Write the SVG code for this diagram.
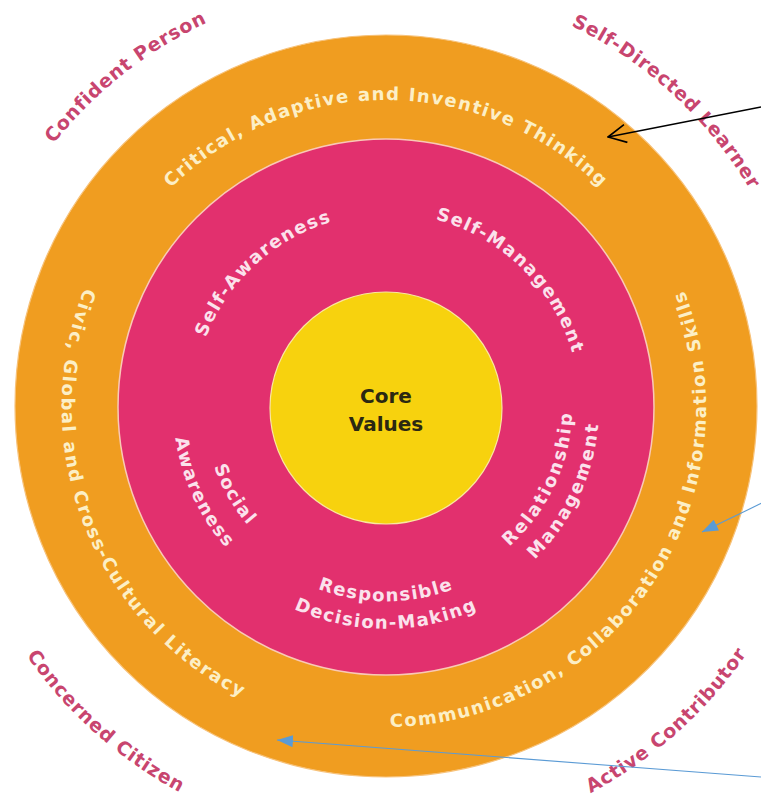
<svg xmlns="http://www.w3.org/2000/svg" xmlns:xlink="http://www.w3.org/1999/xlink" width="761" height="803" viewBox="0 0 761 803">
<style>
text{font-family:"DejaVu Sans","Open Sans","Liberation Sans",sans-serif;font-weight:700;}
.outer{fill:#C8456F;font-size:19px;letter-spacing:0.8px;}
.ring{fill:#FCEFC6;font-size:18px;letter-spacing:1.5px;}
.inner{fill:#FBE2EC;font-size:18px;letter-spacing:1.5px;}
.wide{letter-spacing:2.2px;}
.core{fill:#2B2812;font-size:20px;}
</style>
<defs>
<path id="pConf" d="M -33.6 467.8 A 424 424 0 0 1 543.1 13.2"/>
<path id="pSelfDir" d="M 258.8 2.5 A 424 424 0 0 1 799.9 499.1"/>
<path id="pConc" d="M -41.9 318.4 A 437 437 0 0 0 523.2 821.9"/>
<path id="pAct" d="M 249.5 822.1 A 437 437 0 0 0 813.8 317.6"/>
<path id="pCrit" d="M 79 407 A 307 307 0 0 1 693 407"/>
<path id="pCivic" d="M 243.7 115.9 A 324 324 0 0 0 475.6 718.4"/>
<path id="pComm" d="M 185.3 656.2 A 320 320 0 1 0 540.4 126.7"/>
<path id="pSA" d="M 243.7 537.4 A 193 193 0 0 1 528.3 276.6"/>
<path id="pSM" d="M 247.6 271 A 194 194 0 0 1 524.4 543"/>
<path id="pSoc" d="M 269 267.6 A 182 182 0 0 0 448.2 578"/>
<path id="pAw" d="M 263.8 232.5 A 213 213 0 0 0 441.1 612.7"/>
<path id="pResp" d="M 194.9 440.7 A 194 194 0 0 0 577.1 440.7"/>
<path id="pDec" d="M 167.4 445.5 A 222 222 0 0 0 604.6 445.5"/>
<path id="pRel" d="M 337.9 586.7 A 186 186 0 0 0 492.7 254.6"/>
<path id="pMan" d="M 330.9 612.7 A 213 213 0 0 0 508.2 232.5"/>
<marker id="mOpen" markerUnits="userSpaceOnUse" viewBox="0 0 20 20" refX="19" refY="10" markerWidth="20" markerHeight="20" orient="auto">
<path d="M1,1 L19,10 L1,19" fill="none" stroke="#000" stroke-width="1.6"/>
</marker>
<marker id="mBlue" markerUnits="userSpaceOnUse" viewBox="0 0 16 12" refX="16" refY="6" markerWidth="16" markerHeight="12" orient="auto">
<path d="M0,0 L16,6 L0,12 z" fill="#5B9BD5"/>
</marker>
</defs>
<rect width="761" height="803" fill="#fff"/>
<g id="ring-outer">
<circle cx="386" cy="406" r="371" fill="#F09D20" stroke="#F7C27A" stroke-width="1.2"/>
<text class="ring"><textPath xlink:href="#pCrit" href="#pCrit" startOffset="50%" text-anchor="middle">Critical, Adaptive and Inventive Thinking</textPath></text>
<text class="ring" style="letter-spacing:1.8px"><textPath xlink:href="#pCivic" href="#pCivic" startOffset="50%" text-anchor="middle">Civic, Global and Cross-Cultural Literacy</textPath></text>
<text class="ring" style="letter-spacing:1.6px"><textPath xlink:href="#pComm" href="#pComm" startOffset="50%" text-anchor="middle">Communication, Collaboration and Information Skills</textPath></text>
</g>
<g id="ring-pink">
<circle cx="386" cy="407" r="268" fill="#E2306E" stroke="#F9C9B6" stroke-width="1.5"/>
<text class="inner"><textPath xlink:href="#pSA" href="#pSA" startOffset="50%" text-anchor="middle">Self-Awareness</textPath></text>
<text class="inner"><textPath xlink:href="#pSM" href="#pSM" startOffset="50%" text-anchor="middle">Self-Management</textPath></text>
<text class="inner"><textPath xlink:href="#pSoc" href="#pSoc" startOffset="50%" text-anchor="middle">Social</textPath></text>
<text class="inner"><textPath xlink:href="#pAw" href="#pAw" startOffset="50%" text-anchor="middle">Awareness</textPath></text>
<text class="inner"><textPath xlink:href="#pResp" href="#pResp" startOffset="50%" text-anchor="middle">Responsible</textPath></text>
<text class="inner"><textPath xlink:href="#pDec" href="#pDec" startOffset="50%" text-anchor="middle">Decision-Making</textPath></text>
<text class="inner wide"><textPath xlink:href="#pRel" href="#pRel" startOffset="50%" text-anchor="middle">Relationship</textPath></text>
<text class="inner wide"><textPath xlink:href="#pMan" href="#pMan" startOffset="50%" text-anchor="middle">Management</textPath></text>
</g>
<g id="core-values">
<circle cx="386" cy="408" r="116" fill="#F7D20E" stroke="#F9E7A0" stroke-width="1.2"/>
<text class="core" x="386" y="403" text-anchor="middle">Core</text>
<text class="core" x="386" y="431" text-anchor="middle">Values</text>
</g>
<g id="outcome-labels">
<text class="outer"><textPath xlink:href="#pConf" href="#pConf" startOffset="50%" text-anchor="middle">Confident Person</textPath></text>
<text class="outer"><textPath xlink:href="#pSelfDir" href="#pSelfDir" startOffset="50%" text-anchor="middle">Self-Directed Learner</textPath></text>
<text class="outer"><textPath xlink:href="#pConc" href="#pConc" startOffset="50%" text-anchor="middle">Concerned Citizen</textPath></text>
<text class="outer"><textPath xlink:href="#pAct" href="#pAct" startOffset="50%" text-anchor="middle">Active Contributor</textPath></text>
</g>
<g id="connectors">
<line x1="761" y1="107" x2="608" y2="137" stroke="#000" stroke-width="1.6" marker-end="url(#mOpen)"/>
<line x1="762" y1="503" x2="702" y2="532" stroke="#5B9BD5" stroke-width="1.1" marker-end="url(#mBlue)"/>
<line x1="761" y1="777" x2="277" y2="740" stroke="#5B9BD5" stroke-width="1.1" marker-end="url(#mBlue)"/>
</g>
</svg>
